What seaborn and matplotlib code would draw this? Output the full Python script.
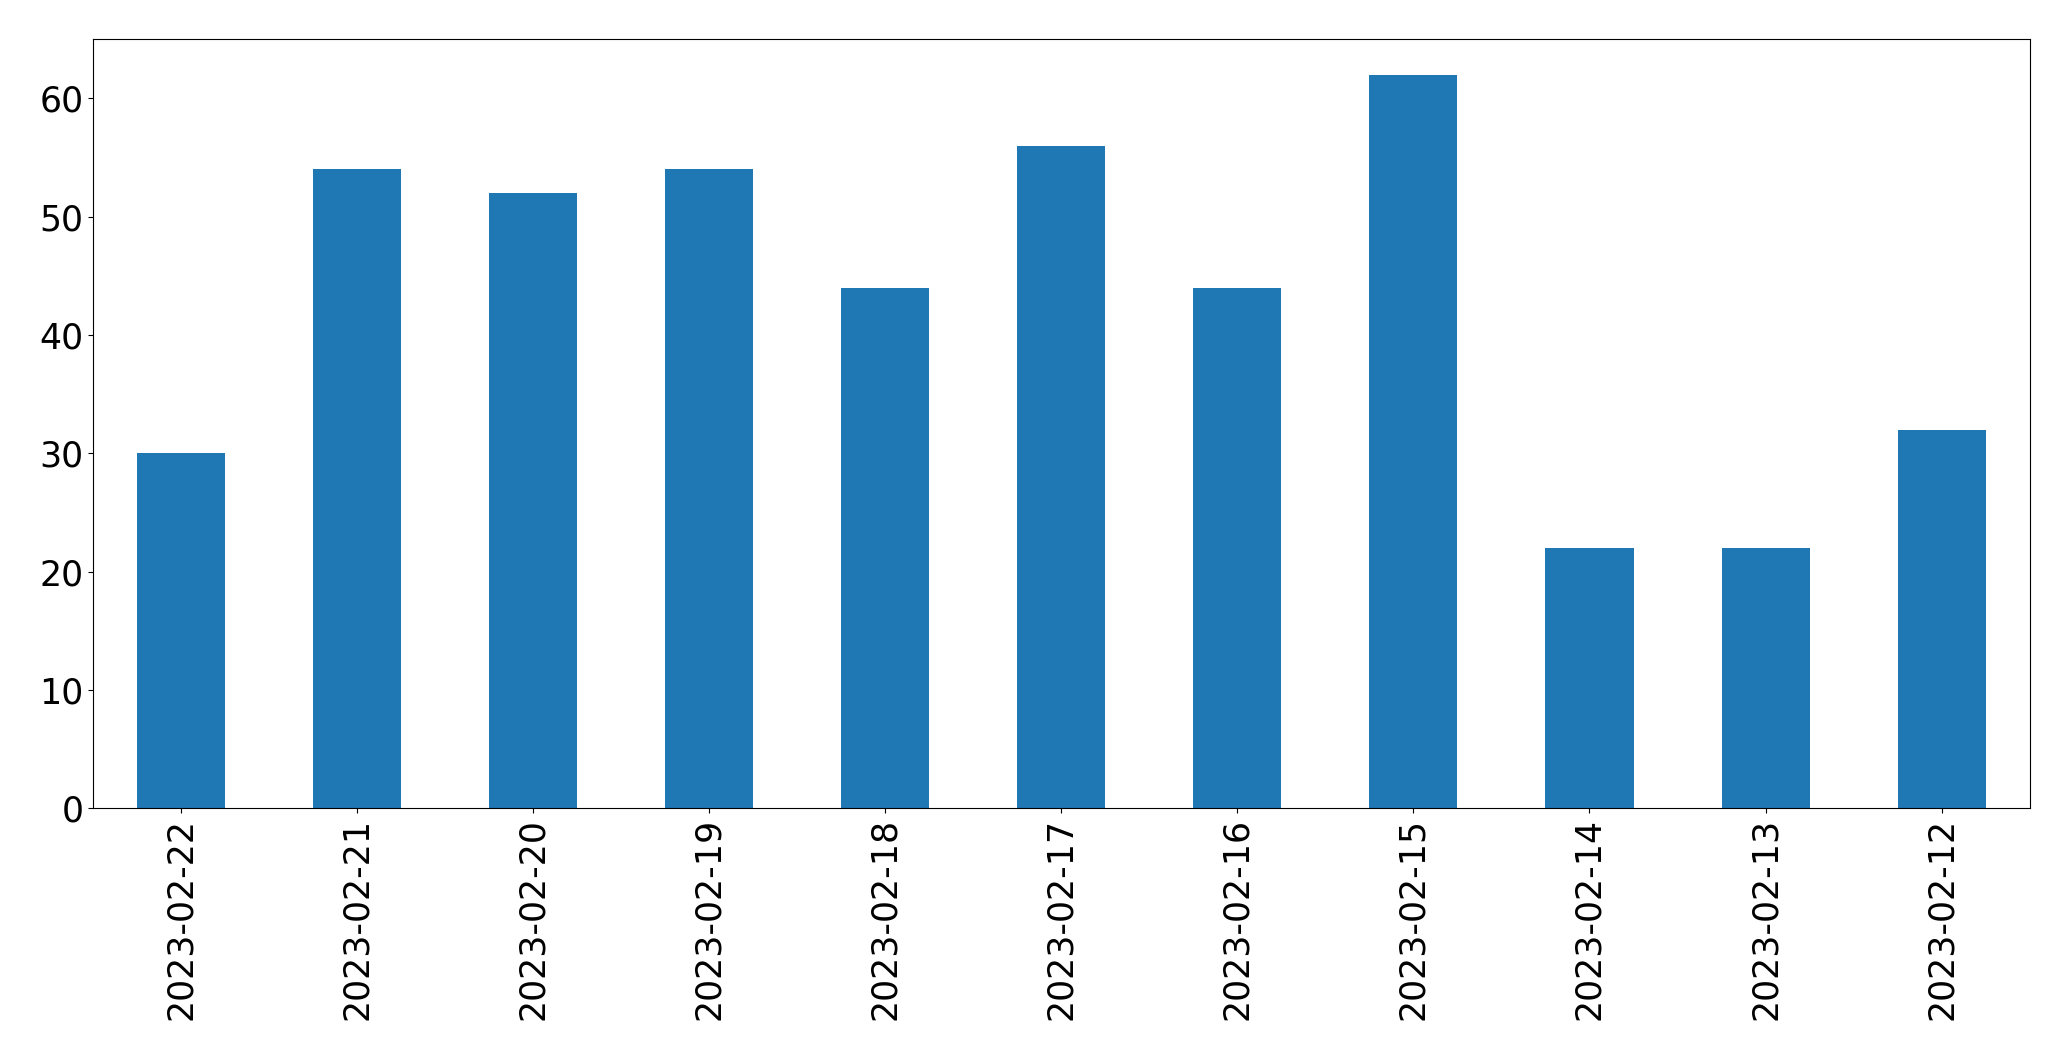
import matplotlib
matplotlib.use('Agg')
import matplotlib.pyplot as plt
import seaborn as sns
import pandas as pd

dates = ['2023-02-22', '2023-02-21', '2023-02-20', '2023-02-19', '2023-02-18', '2023-02-17',
         '2023-02-16', '2023-02-15', '2023-02-14', '2023-02-13', '2023-02-12']
counts = [30, 54, 52, 54, 44, 56, 44, 62, 22, 22, 32]

df = pd.DataFrame({'date': dates, 'count': counts})

sns.set_style('ticks')
plt.rcParams['font.family'] = ['DejaVu Sans']
plt.rcParams['text.color'] = 'black'
plt.rcParams['xtick.color'] = 'black'
plt.rcParams['ytick.color'] = 'black'

fig, ax = plt.subplots(figsize=(20.71, 10.61), dpi=100)
sns.barplot(data=df, x='date', y='count', color='#1f77b4', saturation=1, width=0.5,
            linewidth=0, ax=ax)
ax.set_xlim(-0.5, len(dates) - 0.5)
ax.set_ylim(0, 65)
ax.set_xlabel('')
ax.set_ylabel('')
ax.tick_params(axis='both', labelsize=25, colors='black', width=0.8, length=3.5)
ax.tick_params(axis='x', rotation=90)
for s in ax.spines.values():
    s.set_visible(True)
    s.set_linewidth(0.8)
    s.set_color('black')

fig.subplots_adjust(left=0.045, right=0.98, top=0.963, bottom=0.238)
fig.savefig('out.png', dpi=100)
